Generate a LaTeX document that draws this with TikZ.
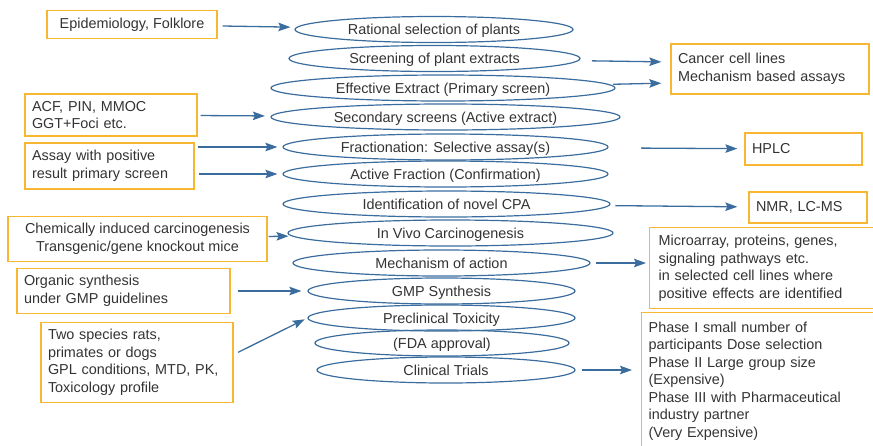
\documentclass[tikz,border=0pt]{standalone}
\usepackage{fontspec}
\setmainfont{Liberation Sans}
\usetikzlibrary{shapes.geometric,arrows.meta}
\definecolor{boxorange}{HTML}{F7B733}
\definecolor{flowblue}{HTML}{3A6D9E}
\definecolor{inkgray}{HTML}{333333}
\begin{document}
\begin{tikzpicture}[x=1pt,y=-1pt,
    stage/.style={ellipse,draw=flowblue,line width=1.2pt,inner sep=0pt,minimum height=26pt,text=inkgray,font=\fontsize{14.4}{17.5}\selectfont,text height=10.3pt,text depth=0pt},
    note/.style={rectangle,draw=boxorange,line width=1.3pt,inner sep=7pt,align=left,text=inkgray,font=\fontsize{14.4}{17.5}\selectfont},
    link/.style={draw=flowblue,line width=1.3pt,-{Stealth[length=12pt,width=8.5pt,inset=2pt]}}]
                \clip (0,0) rectangle (873,445);

                \node[stage, minimum width=278pt] at (434, 29.5) (rational) {Rational selection of plants};
                \node[stage, minimum width=291pt] at (434.5, 58.5) (screening) {Screening of plant extracts};
                \node[stage, minimum width=344pt] at (443, 88) (effective) {Effective Extract (Primary screen)};
                \node[stage, minimum width=349pt] at (445.5, 117) (secondary) {Secondary screens (Active extract)};
                \node[stage, minimum width=325pt] at (445.5, 147) (fraction) {Fractionation: Selective assay(s)};
                \node[stage, minimum width=325pt] at (445.5, 174) (active) {Active Fraction (Confirmation)};
                \node[stage, minimum width=327pt] at (446.5, 204) (novel) {Identification of novel CPA};
                \node[stage, minimum width=325pt] at (450.5, 233) (invivo) {In Vivo Carcinogenesis};
                \node[stage, minimum width=297pt] at (441.5, 263) (mechanism) {Mechanism of action};
                \node[stage, minimum width=267pt] at (441.5, 291) (gmp) {GMP Synthesis};
                \node[stage, minimum width=267pt] at (441.5, 318) (tox) {Preclinical Toxicity};
                \node[stage, minimum width=254pt] at (442, 343) (fda) {(FDA approval)};
                \node[stage, minimum width=258pt] at (446, 370) (trials) {Clinical Trials};

                \node[note, align=center, minimum width=170pt, minimum height=27pt] at (132, 24.5) (epi) {Epidemiology, Folklore};
                \node[note, text width=158pt, minimum height=42pt] at (111, 115) (acf) {ACF, PIN, MMOC\\GGT+Foci etc.};
                \node[note, text width=155pt, minimum height=46pt] at (109.5, 166) (assay) {Assay with positive\\result primary screen};
                \node[note, align=center, minimum width=259pt, minimum height=44pt] at (137.5, 239) (chem) {Chemically induced carcinogenesis\\Transgenic/gene knockout mice};
                \node[note, text width=199pt, minimum height=44pt] at (123.5, 291) (organic) {Organic synthesis\\under GMP guidelines};
                \node[note, text width=178pt, minimum height=77pt] at (137, 362.5) (species) {Two species rats,\\primates or dogs\\GPL conditions, MTD, PK,\\Toxicology profile};
                \node[note, text width=184pt, minimum height=50pt] at (770, 69) (cancer) {Cancer cell lines\\Mechanism based assays};
                \node[note, text width=103pt, minimum height=32pt] at (803.5, 149) (hplc) {HPLC};
                \node[note, text width=104pt, minimum height=31pt] at (808, 207.5) (nmr) {NMR, LC-MS};
                \node[note, anchor=north west, inner xsep=9pt, text width=227pt, minimum height=81pt] at (649, 227) (micro) {Microarray, proteins, genes,\\signaling pathways etc.\\in selected cell lines where\\positive effects are identified};
                \node[note, anchor=north west, inner ysep=9pt, text width=236pt] at (641, 312) (phase) {Phase I small number of\\participants Dose selection\\Phase II Large group size\\(Expensive)\\Phase III with Pharmaceutical\\industry partner\\(Very Expensive)\\ \mbox{}};

                \path[every edge/.style={link}]
                    (epi) edge[shorten <=5pt, shorten >=6pt] (rational)
                    (screening) edge[shorten <=13pt, shorten >=9pt] ([yshift=7pt]cancer.west)
                    (effective) edge[shorten <=4pt, shorten >=9pt] ([yshift=-14pt]cancer.west)
                    (acf) edge[shorten <=3pt, shorten >=6pt] (secondary)
                    (assay.east |- fraction) edge[shorten <=3pt, shorten >=5pt] (fraction)
                    (assay.east |- active) edge[shorten <=4pt, shorten >=5pt] (active)
                    (fraction) edge[shorten <=33pt, shorten >=7pt] (hplc)
                    (novel) edge[shorten <=6pt, shorten >=11pt] (nmr)
                    (chem) edge[shorten <=1pt, shorten >=3pt] (invivo)
                    (mechanism) edge[shorten <=5pt, shorten >=3pt] (mechanism -| micro.west)
                    (organic) edge[shorten <=7pt, shorten >=6pt] (gmp)
                    ([yshift=8pt]species.east) edge[shorten <=5pt, shorten >=3pt] (tox.west)
                    (trials) edge[shorten <=6pt, shorten >=9pt] (trials -| phase.west)
                    ;
            \end{tikzpicture}
\end{document}
